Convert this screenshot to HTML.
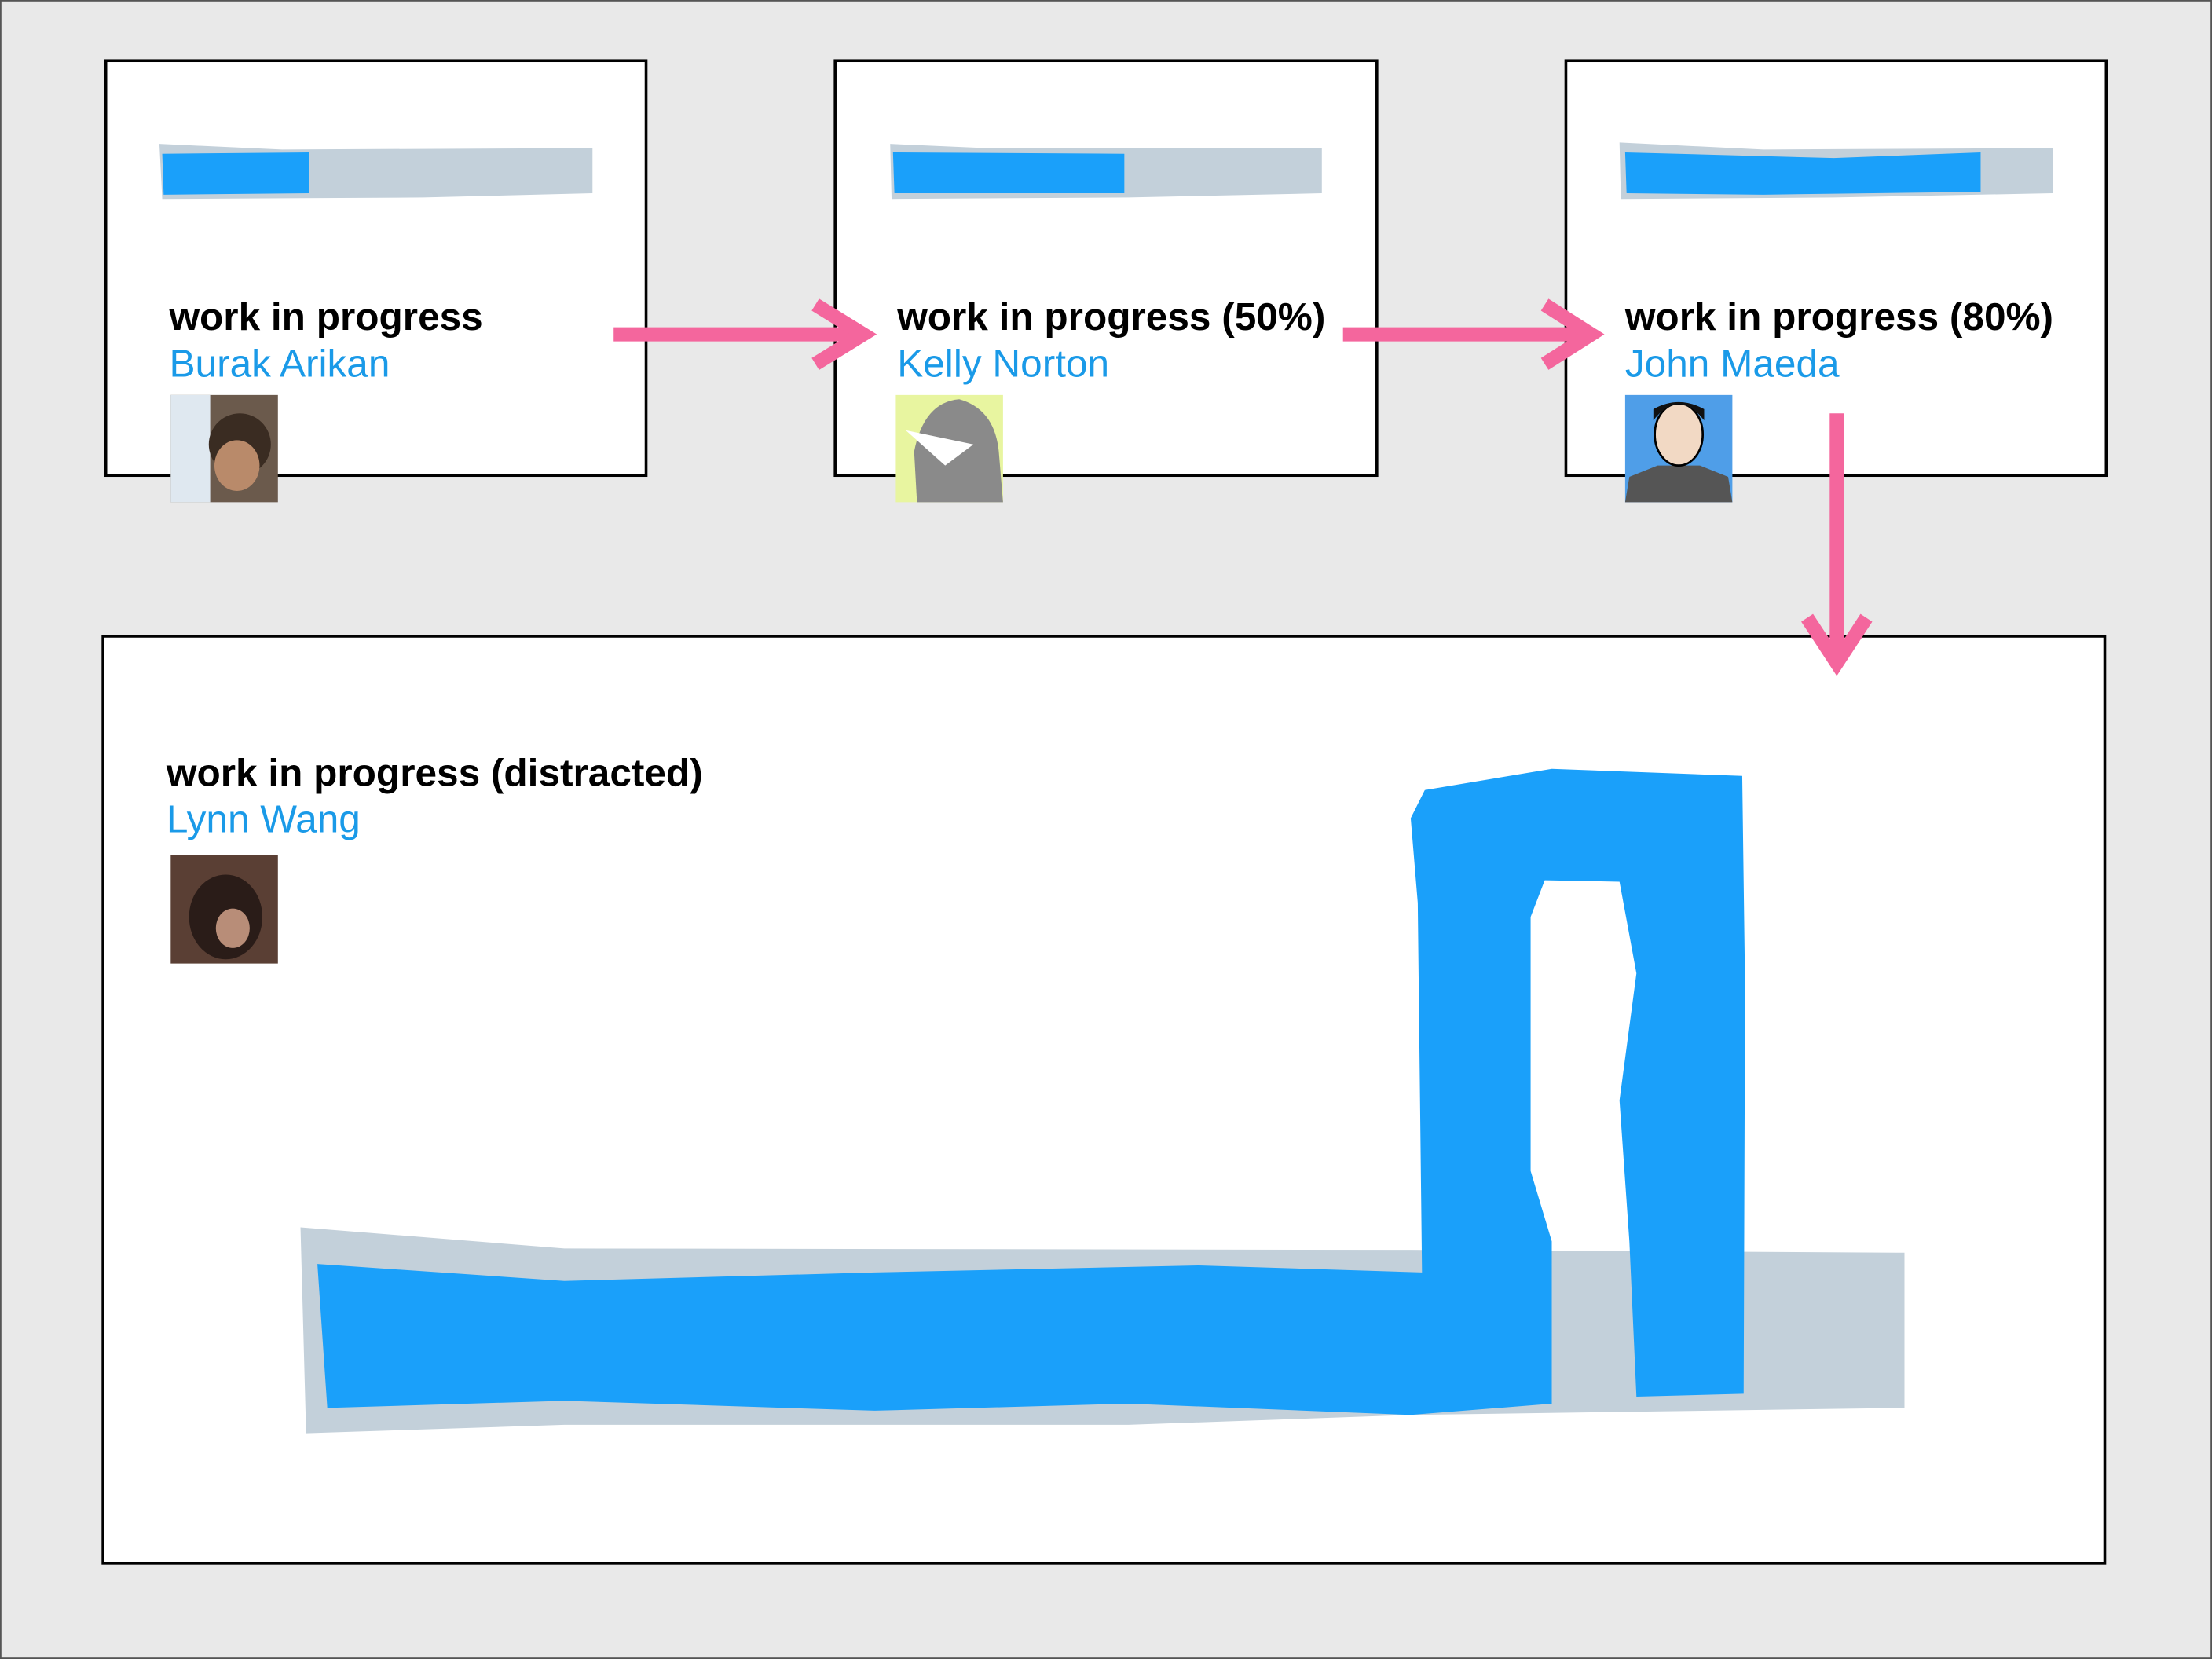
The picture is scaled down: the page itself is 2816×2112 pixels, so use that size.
<!DOCTYPE html>
<html><head><meta charset="utf-8"><style>
html,body{margin:0;padding:0;background:#e9e9e9;}
svg{display:block;}
text{font-family:"Liberation Sans",Arial,sans-serif;}
</style></head><body>
<svg width="2816" height="2112" viewBox="0 0 1568 1176" xmlns="http://www.w3.org/2000/svg">
<rect x="0.5" y="0.5" width="1567" height="1175" fill="#e9e9e9" stroke="#555" stroke-width="1"/>
<!-- box 1 -->
<rect x="75" y="43" width="383" height="294" fill="#fff" stroke="#000" stroke-width="2"/>
<path d="M113 102 L200 106 L420 105 L420 137 L300 140 L115 141 Z" fill="#c3d0da"/>
<path d="M115 109 L219 108 L219 137 L116 138 Z" fill="#1aa0fa"/>
<text x="120" y="234" font-size="27.6" font-weight="bold" fill="#000">work in progress</text>
<text x="120" y="267" font-size="27.6" fill="#1a9ae8">Burak Arikan</text>
<rect x="121" y="280" width="76" height="76" fill="#6b5a4c"/>
<rect x="121" y="280" width="28" height="76" fill="#dfe8f0"/>
<circle cx="170" cy="315" r="22" fill="#3a2c22"/>
<ellipse cx="168" cy="330" rx="16" ry="18" fill="#b98a6a"/>
<!-- box 2 -->
<rect x="592" y="43" width="384" height="294" fill="#fff" stroke="#000" stroke-width="2"/>
<path d="M631 102 L700 105 L937 105 L937 137 L800 140 L632 141 Z" fill="#c3d0da"/>
<path d="M633 108 L797 109 L797 137 L634 137 Z" fill="#1aa0fa"/>
<text x="636" y="234" font-size="27.6" font-weight="bold" fill="#000">work in progress (50%)</text>
<text x="636" y="267" font-size="27.6" fill="#1a9ae8">Kelly Norton</text>
<rect x="635" y="280" width="76" height="76" fill="#e8f5a0"/>
<path d="M650 356 L648 320 Q655 285 680 283 Q705 290 708 320 L711 356 Z" fill="#8a8a8a"/>
<path d="M642 305 L690 315 L670 330 Z" fill="#fff"/>
<!-- box 3 -->
<rect x="1110" y="43" width="383" height="294" fill="#fff" stroke="#000" stroke-width="2"/>
<path d="M1148 101 L1250 106 L1455 105 L1455 137 L1300 140 L1149 141 Z" fill="#c3d0da"/>
<path d="M1152 108 L1300 112 L1404 108 L1404 136 L1250 138 L1153 137 Z" fill="#1aa0fa"/>
<text x="1152" y="234" font-size="27.6" font-weight="bold" fill="#000">work in progress (80%)</text>
<text x="1152" y="267" font-size="27.6" fill="#1a9ae8">John Maeda</text>
<rect x="1152" y="280" width="76" height="76" fill="#4f9ee8"/>
<path d="M1152 356 L1155 338 L1175 330 L1205 330 L1225 338 L1228 356 Z" fill="#555"/>
<ellipse cx="1190" cy="308" rx="17" ry="22" fill="#f2d9c4" stroke="#000" stroke-width="1.5"/>
<path d="M1172 298 Q1190 275 1208 298 L1208 290 Q1190 280 1172 290 Z" fill="#111"/>
<!-- big box -->
<rect x="73" y="451" width="1419" height="657" fill="#fff" stroke="#000" stroke-width="2"/>
<text x="118" y="557" font-size="27.6" font-weight="bold" fill="#000">work in progress (distracted)</text>
<text x="118" y="590" font-size="27.6" fill="#1a9ae8">Lynn Wang</text>
<rect x="121" y="606" width="76" height="77" fill="#5a3f34"/>
<ellipse cx="160" cy="650" rx="26" ry="30" fill="#2a1c18"/>
<ellipse cx="165" cy="658" rx="12" ry="14" fill="#b88d78"/>
<path d="M213 870 L400 885 L1000 886 L1350 888 L1350 998 L1000 1003 L800 1010 L400 1010 L217 1016 Z" fill="#c3d0da"/>
<path d="M225 896 L400 908 L620 902 L850 897 L1008 902 L1005 640 L1000 580 L1010 560 L1100 545 L1235 550 L1237 700 L1236 988 L1160 990 L1155 880 L1148 780 L1160 690 L1148 625 L1095 624 L1085 650 L1085 830 L1100 880 L1100 995 L1000 1003 L800 995 L620 1000 L400 993 L232 998 Z" fill="#1aa0fa"/>
<!-- arrows -->
<g stroke="#f4669d" stroke-width="10" fill="none" stroke-linecap="butt">
<line x1="435" y1="237" x2="612" y2="237"/>
<polyline points="578,216 612,237 578,258"/>
<line x1="952" y1="237" x2="1128" y2="237"/>
<polyline points="1095,216 1128,237 1095,258"/>
<line x1="1302" y1="293" x2="1302" y2="470"/>
<polyline points="1281,438 1302,470 1323,438"/>
</g>
</svg>
</body></html>
